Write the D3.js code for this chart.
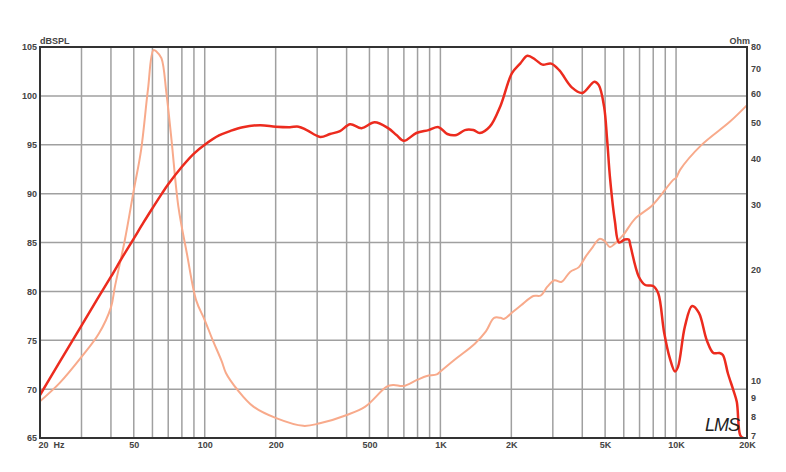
<!DOCTYPE html>
<html>
<head>
<meta charset="utf-8">
<script src="https://cdn.jsdelivr.net/npm/d3@7"></script>
<style>
  html, body { margin: 0; padding: 0; background: #fff; }
  svg { display: block; }
  text { font-family: "Liberation Sans", Arial, sans-serif; }
</style>
</head>
<body>
<svg id="chart" width="786" height="472"></svg>
<script>
// ---- data ----
const splFreq = [20, 24, 30, 35, 40, 45, 50, 55, 60, 66, 70, 80, 90, 100, 115, 128, 145, 172, 200, 230, 250, 271, 309, 340, 375, 414, 463, 526, 600, 651, 700, 791, 890, 983, 1070, 1170, 1270, 1380, 1470, 1620, 1800, 2010, 2180, 2340, 2530, 2710, 2950, 3200, 3600, 4000, 4500, 4700, 4950, 5100, 5250, 5500, 5730, 6050, 6300, 6400, 6950, 7400, 8000, 8400, 8900, 9400, 9900, 10200, 10900, 11700, 12500, 13500, 14400, 15300, 15800, 16600, 17500, 18100, 18700, 19200, 20000];
const splDb = [69.4, 72.6, 76.5, 79.2, 81.5, 83.6, 85.4, 87.05, 88.5, 90.05, 90.95, 92.75, 94.1, 95.0, 95.95, 96.4, 96.8, 97.0, 96.85, 96.8, 96.85, 96.5, 95.8, 96.1, 96.4, 97.1, 96.7, 97.3, 96.7, 96.0, 95.4, 96.2, 96.5, 96.8, 96.1, 96.0, 96.5, 96.5, 96.2, 96.85, 99.0, 102.3, 103.3, 104.1, 103.7, 103.2, 103.3, 102.6, 100.9, 100.3, 101.45, 101.1, 98.9, 95.5, 91.5, 87.2, 85.0, 85.3, 85.3, 84.7, 81.5, 80.65, 80.55, 79.8, 75.8, 73.2, 71.8, 72.3, 76.4, 78.5, 77.8, 75.0, 73.7, 73.7, 73.5, 71.6, 69.9, 68.7, 65.3, 65, 65];

const impFreq = [20, 24.2, 30, 35.5, 40, 41.6, 45.8, 50, 53.7, 57.4, 60.6, 62.5, 65.5, 68.8, 72.3, 77.3, 84, 92, 100, 108, 118, 123, 138, 161, 201, 262, 308, 401, 480, 592, 632, 697, 795, 876, 965, 1000, 1170, 1400, 1560, 1690, 1800, 1860, 2040, 2200, 2480, 2660, 2850, 3050, 3260, 3550, 3870, 4140, 4430, 4730, 4970, 5240, 5500, 5970, 6720, 7960, 9700, 10000, 10400, 12800, 16900, 20000];
const impOhm = [8.8, 9.85, 11.6, 13.4, 15.8, 18.0, 24.0, 32.8, 42.1, 61.2, 78.5, 77.7, 74.6, 59.9, 44.8, 29.6, 22.1, 16.5, 14.6, 12.9, 11.3, 10.5, 9.44, 8.51, 7.92, 7.55, 7.67, 8.08, 8.51, 9.64, 9.74, 9.68, 10.05, 10.3, 10.4, 10.6, 11.5, 12.6, 13.6, 14.8, 14.8, 14.7, 15.4, 16.0, 16.96, 17.0, 18.0, 18.7, 18.5, 19.7, 20.3, 21.7, 23.0, 24.2, 23.9, 23.0, 23.5, 24.8, 27.5, 29.9, 34.9, 35.4, 37.2, 43.4, 50.2, 55.7];

const freqGrid = [30, 40, 50, 60, 70, 80, 90, 100, 200, 300, 400, 500, 600, 700, 800, 900, 1000, 2000, 3000, 4000, 5000, 6000, 7000, 8000, 9000, 10000];
const freqTicks = [20, 50, 100, 200, 500, 1000, 2000, 5000, 10000, 20000];
const freqLabels = ["20\u00a0\u00a0Hz", "50", "100", "200", "500", "1K", "2K", "5K", "10K", "20K"];
const dbTicks = [65, 70, 75, 80, 85, 90, 95, 100, 105];
const ohmTicks = [7, 8, 9, 10, 20, 30, 40, 50, 60, 70, 80];

// ---- layout ----
const L = 40, R = 747, T = 47, B = 438;
const svg = d3.select("#chart");

const x = d3.scaleLog().domain([20, 20000]).range([L, R]);
const y = d3.scaleLinear().domain([65, 105]).range([B, T]);
const yO = d3.scaleLog().domain([7, 80]).range([B, T]);

// grid
const grid = svg.append("g").attr("stroke", "#a0a0a0").attr("stroke-width", 1.5);
grid.selectAll("line.v").data(freqGrid).join("line")
  .attr("x1", d => x(d)).attr("x2", d => x(d)).attr("y1", T).attr("y2", B);
grid.selectAll("line.h").data(dbTicks.slice(1, -1)).join("line")
  .attr("x1", L).attr("x2", R).attr("y1", d => y(d)).attr("y2", d => y(d));

// curves
svg.append("clipPath").attr("id", "clip").append("rect")
  .attr("x", L).attr("y", T - 2).attr("width", R - L).attr("height", B - T + 3);

const impData = impFreq.map((f, i) => [f, impOhm[i]]);
const splData = splFreq.map((f, i) => [f, splDb[i]]);

svg.append("path").datum(impData)
  .attr("clip-path", "url(#clip)")
  .attr("fill", "none").attr("stroke", "#f8aa8b").attr("stroke-width", 2)
  .attr("stroke-linejoin", "round")
  .attr("d", d3.line().x(d => x(d[0])).y(d => yO(d[1])).curve(d3.curveCatmullRom.alpha(0.5)));

svg.append("path").datum(splData)
  .attr("clip-path", "url(#clip)")
  .attr("fill", "none").attr("stroke", "#ec2b1e").attr("stroke-width", 2.5)
  .attr("stroke-linejoin", "round")
  .attr("d", d3.line().x(d => x(d[0])).y(d => y(Math.max(65, d[1]))).curve(d3.curveCatmullRom.alpha(0.5)));

// frame
const frame = svg.append("g").attr("stroke", "#333").attr("stroke-width", 2).attr("fill", "none");
frame.append("rect").attr("x", L).attr("y", T).attr("width", R - L).attr("height", B - T);

// axes
const axL = svg.append("g").attr("transform", `translate(${L},0)`)
  .call(d3.axisLeft(y).tickValues(dbTicks).tickSize(0).tickPadding(3));
const axR = svg.append("g").attr("transform", `translate(${R},0)`)
  .call(d3.axisRight(yO).tickValues(ohmTicks).tickFormat(d3.format("d")).tickSize(0).tickPadding(4));
const axB = svg.append("g").attr("transform", `translate(0,${B})`)
  .call(d3.axisBottom(x).tickValues(freqTicks).tickFormat((d, i) => freqLabels[i]).tickSize(0).tickPadding(4));

[axL, axR, axB].forEach(a => {
  a.select(".domain").remove();
  a.selectAll("text").attr("font-size", 9).attr("font-weight", "bold").attr("fill", "#444")
    .attr("font-family", "'Liberation Sans', Arial, sans-serif");
});
axB.selectAll("text").filter((d, i) => i === 0).attr("text-anchor", "start").attr("x", -2);
// lift the lowest ohm label a little so it clears the 20K label
axR.selectAll("text").filter(d => d === 7).attr("dy", "0.1em");

// axis titles
svg.append("text").attr("x", L).attr("y", 44).attr("font-size", 9).attr("font-weight", "bold")
  .attr("fill", "#444").text("dBSPL");
svg.append("text").attr("x", R + 3).attr("y", 44).attr("text-anchor", "end").attr("font-size", 9)
  .attr("font-weight", "bold").attr("fill", "#444").text("Ohm");

// logo
svg.append("text").attr("x", 705).attr("y", 431).attr("font-size", 18)
  .attr("font-style", "italic").attr("font-family", "'DejaVu Sans', sans-serif")
  .attr("font-weight", "300").attr("fill", "#222").attr("letter-spacing", -1).text("LMS");
</script>
</body>
</html>
